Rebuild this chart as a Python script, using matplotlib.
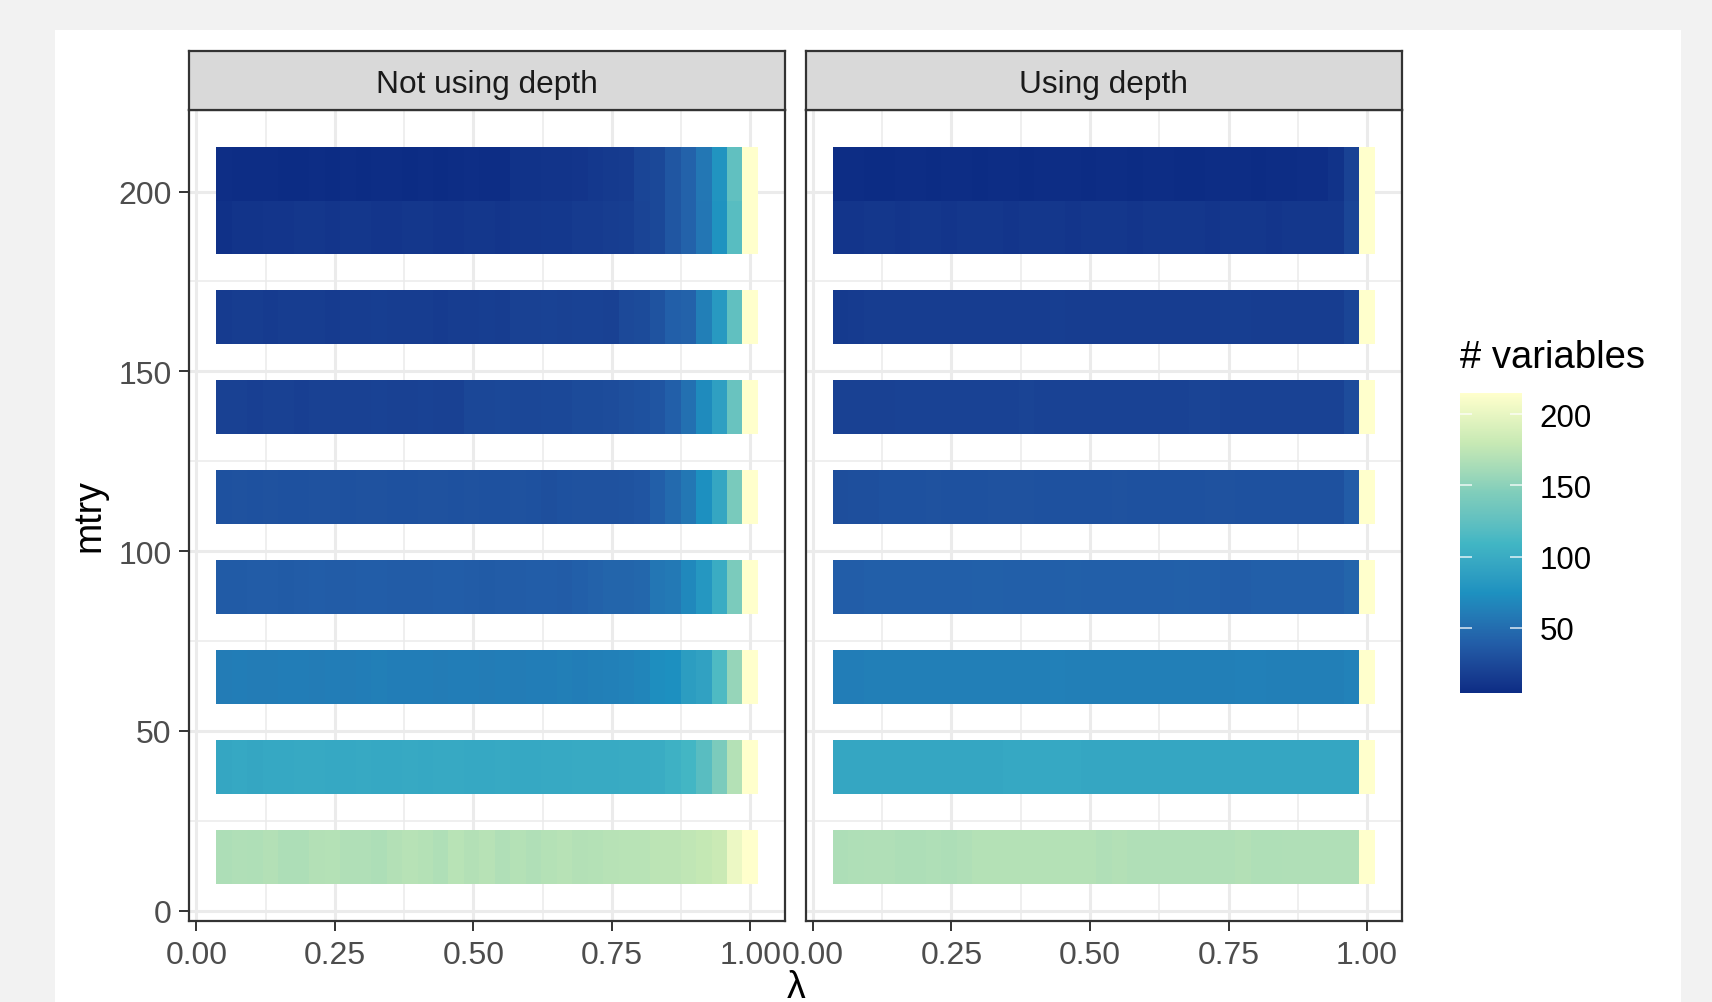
import numpy as np
import matplotlib
matplotlib.use("Agg")
import matplotlib.pyplot as plt
from matplotlib.colors import ListedColormap, Normalize
from matplotlib.patches import Rectangle
from matplotlib.cm import ScalarMappable

plt.rcParams['font.family'] = ['Liberation Sans', 'DejaVu Sans']

# ---------------- data ----------------
facets = ["Not using depth", "Using depth"]
mtry = [15, 40, 65, 90, 115, 140, 165, 190, 205]
lambdas = [0.0500, 0.0779, 0.1059, 0.1338, 0.1618, 0.1897, 0.2176, 0.2456, 0.2735,
           0.3015, 0.3294, 0.3574, 0.3853, 0.4132, 0.4412, 0.4691, 0.4971, 0.5250,
           0.5529, 0.5809, 0.6088, 0.6368, 0.6647, 0.6926, 0.7206, 0.7485, 0.7765,
           0.8044, 0.8324, 0.8603, 0.8882, 0.9162, 0.9441, 0.9721, 1.0000]
x_ticks = [0.0, 0.25, 0.5, 0.75, 1.0]
y_ticks = [0, 50, 100, 150, 200]
legend_ticks = [50, 100, 150, 200]

# "Not using depth": number of selected variables per lambda, one list per mtry
nd_15 = [166, 168, 167, 169, 166, 166, 169, 170, 168, 168, 166, 169, 171, 170, 167, 172, 169, 171,
         168, 170, 168, 170, 171, 169, 170, 171, 172, 172, 174, 174, 176, 178, 182, 203, 215]
nd_40 = [95, 96, 95, 96, 96, 97, 97, 96, 96, 97, 96, 96, 97, 96, 97, 97, 96, 96,
         97, 96, 96, 97, 97, 98, 98, 98, 99, 99, 100, 105, 110, 121, 142, 170, 215]
nd_65 = [60, 61, 60, 60, 61, 61, 60, 61, 60, 61, 62, 61, 61, 61, 60, 61, 61, 60,
         61, 60, 61, 61, 62, 61, 62, 63, 64, 66, 72, 74, 86, 90, 115, 155, 215]
nd_90 = [37, 37, 38, 38, 37, 38, 39, 38, 38, 39, 39, 38, 38, 38, 39, 39, 38, 37,
         38, 38, 39, 39, 38, 40, 42, 44, 44, 46, 56, 58, 68, 80, 100, 142, 215]
nd_115 = [30, 31, 30, 31, 30, 30, 31, 31, 30, 31, 31, 30, 30, 31, 31, 30, 31, 30,
          30, 31, 30, 29, 30, 31, 31, 31, 32, 33, 40, 48, 57, 74, 95, 140, 215]
nd_140 = [19, 19, 18, 19, 19, 18, 19, 19, 19, 19, 20, 19, 19, 20, 19, 19, 23, 23,
          24, 23, 23, 24, 24, 26, 26, 27, 29, 30, 33, 40, 52, 70, 88, 130, 215]
nd_165 = [15, 16, 16, 15, 16, 16, 16, 15, 16, 16, 17, 16, 16, 16, 15, 16, 16, 17,
          16, 19, 19, 20, 19, 20, 20, 19, 25, 26, 32, 40, 42, 62, 82, 125, 215]
nd_190 = [8, 10, 10, 11, 11, 12, 12, 11, 12, 12, 11, 11, 12, 12, 11, 11, 12, 12,
          11, 12, 12, 13, 13, 15, 15, 16, 17, 21, 24, 34, 42, 56, 76, 120, 215]
nd_205 = [6, 5, 5, 5, 4, 4, 5, 4, 5, 4, 5, 5, 4, 5, 4, 5, 6, 5,
          5, 9, 9, 10, 10, 11, 13, 14, 15, 22, 24, 34, 42, 57, 77, 125, 215]

# "Using depth"
d_15 = [166, 167, 168, 168, 166, 166, 167, 166, 168, 170, 170, 170, 170, 170, 170, 170, 170, 168,
        169, 168, 168, 168, 168, 168, 168, 168, 169, 167, 167, 168, 168, 168, 168, 168, 215]
d_40 = [94, 94, 95, 95, 95, 95, 95, 95, 95, 95, 95, 96, 96, 96, 96, 96, 95, 95,
        95, 95, 95, 95, 95, 95, 95, 95, 95, 95, 95, 95, 95, 95, 95, 95, 215]
d_65 = [61, 61, 62, 62, 62, 62, 62, 62, 62, 62, 62, 62, 62, 62, 63, 62, 62, 62,
        62, 62, 62, 62, 62, 62, 62, 62, 63, 63, 62, 62, 62, 62, 62, 64, 215]
d_90 = [39, 39, 40, 40, 40, 40, 40, 40, 40, 41, 41, 40, 40, 40, 40, 41, 40, 40,
        40, 40, 40, 40, 41, 40, 40, 39, 39, 40, 40, 40, 40, 40, 40, 44, 215]
d_115 = [28, 29, 29, 30, 30, 30, 31, 30, 30, 30, 31, 31, 31, 30, 30, 30, 30, 30,
         31, 30, 30, 30, 30, 30, 31, 31, 30, 30, 30, 30, 30, 30, 30, 38, 215]
d_140 = [19, 19, 19, 19, 20, 20, 20, 20, 20, 20, 20, 20, 21, 20, 20, 20, 20, 20,
         20, 20, 20, 20, 20, 21, 21, 20, 20, 20, 20, 20, 20, 20, 20, 27, 215]
d_165 = [14, 15, 16, 16, 16, 16, 16, 16, 16, 16, 16, 16, 16, 16, 17, 16, 16, 16,
         16, 16, 16, 16, 16, 16, 16, 17, 17, 16, 16, 16, 16, 16, 16, 22, 215]
d_190 = [11, 11, 12, 12, 11, 12, 12, 11, 12, 12, 12, 11, 12, 12, 12, 11, 12, 12,
         12, 11, 12, 12, 12, 12, 11, 12, 12, 12, 11, 12, 12, 12, 12, 22, 215]
d_205 = [5, 5, 4, 4, 5, 5, 4, 5, 5, 4, 5, 5, 4, 5, 5, 5, 4, 5,
         5, 4, 5, 5, 4, 4, 5, 5, 5, 4, 5, 5, 6, 6, 9, 20, 215]

panel_rows = {
    "Not using depth": [nd_15, nd_40, nd_65, nd_90, nd_115, nd_140, nd_165, nd_190, nd_205],
    "Using depth": [d_15, d_40, d_65, d_90, d_115, d_140, d_165, d_190, d_205],
}

# ---------------- colour scale (brewer YlGnBu, Lab interpolation like ggplot) ----------------
brewer = ["#0c2c84", "#225ea8", "#1d91c0", "#41b6c4", "#7fcdbb", "#c7e9b4", "#ffffcc"]
M = np.array([[0.4124564, 0.3575761, 0.1804375],
              [0.2126729, 0.7151522, 0.0721750],
              [0.0193339, 0.1191920, 0.9503041]])
WP = np.array([0.95047, 1.0, 1.08883])


def hex2rgb(h):
    h = h.lstrip('#')
    return np.array([int(h[i:i + 2], 16) / 255 for i in (0, 2, 4)])


def rgb2lab(rgb):
    lin = np.where(rgb <= 0.04045, rgb / 12.92, ((rgb + 0.055) / 1.055) ** 2.4)
    xyz = lin @ M.T / WP
    f = np.where(xyz > 0.008856, np.cbrt(xyz), 7.787 * xyz + 16 / 116)
    return np.stack([116 * f[..., 1] - 16, 500 * (f[..., 0] - f[..., 1]), 200 * (f[..., 1] - f[..., 2])], -1)


def lab2rgb(lab):
    fy = (lab[..., 0] + 16) / 116
    fx = fy + lab[..., 1] / 500
    fz = fy - lab[..., 2] / 200
    f = np.stack([fx, fy, fz], -1)
    xyz = np.where(f ** 3 > 0.008856, f ** 3, (f - 16 / 116) / 7.787) * WP
    lin = xyz @ np.linalg.inv(M).T
    lin = np.clip(lin, 0, 1)
    rgb = np.where(lin <= 0.0031308, 12.92 * lin, 1.055 * lin ** (1 / 2.4) - 0.055)
    return np.clip(rgb, 0, 1)


labs = rgb2lab(np.array([hex2rgb(c) for c in brewer]))
pos = np.linspace(0, 1, len(brewer))
tt = np.linspace(0, 1, 512)
lab_i = np.stack([np.interp(tt, pos, labs[:, k]) for k in range(3)], -1)
cmap = ListedColormap(lab2rgb(lab_i))

all_vals = np.array([v for rows in panel_rows.values() for r in rows for v in r])
norm = Normalize(vmin=all_vals.min(), vmax=all_vals.max())

# ---------------- figure ----------------
W, H = 1712, 1003
fig = plt.figure(figsize=(W / 100, H / 100), dpi=100, facecolor='#f2f2f2')
fig.add_artist(Rectangle((54.6 / W, 0), (1681 - 54.6) / W, (H - 30.6) / H,
                         transform=fig.transFigure, facecolor='white', edgecolor='none', zorder=-10))


def px_axes(x0, y0, x1, y1):
    return fig.add_axes([x0 / W, 1 - y1 / H, (x1 - x0) / W, (y1 - y0) / H])


lam = np.array(lambdas)
dx = np.min(np.diff(np.sort(lam)))
xedges = np.concatenate([lam - dx / 2, [lam[-1] + dx / 2]])
dy = np.min(np.diff(np.sort(mtry)))
x_lo, x_hi = xedges[0], xedges[-1]
y_lo, y_hi = min(mtry) - dy / 2, max(mtry) + dy / 2
xr, yr = x_hi - x_lo, y_hi - y_lo
xlim = (x_lo - 0.05 * xr, x_hi + 0.05 * xr)
ylim = (y_lo - 0.05 * yr, y_hi + 0.05 * yr)

border = '#333333'
panel_px = [(189.3, 785.0), (805.8, 1401.9)]
for i, (name, (x0, x1)) in enumerate(zip(facets, panel_px)):
    ax = px_axes(x0, 110.7, x1, 921.7)
    ax.set_facecolor('white')
    for v in [0.125, 0.375, 0.625, 0.875]:
        ax.axvline(v, color='#ebebeb', lw=1.1, zorder=0)
    for v in x_ticks:
        ax.axvline(v, color='#ebebeb', lw=2.2, zorder=0)
    for v in [25, 75, 125, 175]:
        ax.axhline(v, color='#ebebeb', lw=1.1, zorder=0)
    for v in y_ticks:
        ax.axhline(v, color='#ebebeb', lw=2.2, zorder=0)
    for m, row in zip(mtry, panel_rows[name]):
        ax.pcolormesh(xedges, [m - dy / 2, m + dy / 2], np.array([row]), cmap=cmap, norm=norm,
                      shading='flat', edgecolors='none', antialiased=False, zorder=2)
    ax.set_xlim(*xlim)
    ax.set_ylim(*ylim)
    ax.set_xticks(x_ticks, [f"{t:.2f}" for t in x_ticks])
    ax.set_yticks(y_ticks, [str(t) for t in y_ticks])
    ax.tick_params(axis='both', length=7.2, width=1.4, color=border, labelcolor='#4d4d4d',
                   labelsize=23)
    ax.tick_params(axis='x', pad=6.5)
    ax.tick_params(axis='y', pad=5.5)
    if i > 0:
        ax.tick_params(axis='y', left=False, labelleft=False)
    for s in ax.spines.values():
        s.set_color(border)
        s.set_linewidth(1.6)
        s.set_zorder(5)

    st = px_axes(x0, 51.7, x1, 110.7)
    st.set_facecolor('#d9d9d9')
    st.set_xticks([])
    st.set_yticks([])
    for s in st.spines.values():
        s.set_color(border)
        s.set_linewidth(1.6)
    st.text(0.5, 0.44, name, transform=st.transAxes, ha='center', va='center',
            fontsize=22.8, color='#1a1a1a')

fig.text(89.5 / W, 1 - 516 / H, 'mtry', rotation=90, fontsize=27, ha='center', va='center')
fig.text(796 / W, 1 - 970 / H, 'λ', fontsize=27, ha='center', va='top')

# colour bar legend
cax = px_axes(1460, 394, 1521.7, 694)
sm = ScalarMappable(norm=norm, cmap=cmap)
cb = fig.colorbar(sm, cax=cax, ticks=legend_ticks)
cb.outline.set_visible(False)
cax.tick_params(axis='y', direction='in', left=True, right=True, length=8.8, width=1.1,
                color=(1, 1, 1, 0.85), labelsize=22.5, labelcolor='black', pad=13)
cax.set_yticklabels([str(t) for t in legend_ticks])
fig.text(1460 / W, 1 - 358 / H, '# variables', fontsize=27.5, ha='left', va='center')

fig.savefig('out.png', dpi=100, facecolor=fig.get_facecolor())
